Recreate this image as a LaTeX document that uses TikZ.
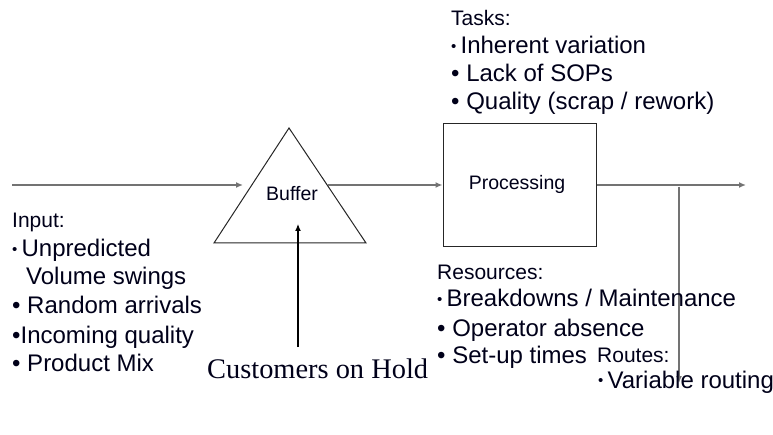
\documentclass[tikz,border=0pt]{standalone}
\usepackage{fontspec}
\setmainfont{Liberation Sans}
\newfontfamily\seriffont{Liberation Serif}
\usetikzlibrary{arrows.meta}
\newcommand{\sbul}{{\fontsize{15}{15}\selectfont\raisebox{2.6pt}{•}\space}}
\begin{document}
\begin{tikzpicture}[x=1pt,y=-1pt,
  txt/.style={anchor=base west, inner sep=0pt, text=black!90!blue, font=\fontsize{24}{28}\selectfont},
  hdr/.style={txt, font=\fontsize{21}{28}\selectfont},
  lbl/.style={inner sep=0pt, anchor=base, text=black!90!blue, font=\fontsize{19.5}{22}\selectfont},
  flow/.style={draw=black!55, line width=1.4pt, -{Latex[length=7pt,width=6pt]}},
  shapeline/.style={draw=black!85, line width=1pt}
]
\useasboundingbox (0,0) rectangle (773,435);

% coordinates
\coordinate (in) at (12,185);
\coordinate (bufL) at (243,185);
\coordinate (bufR) at (328,185);
\coordinate (triA) at (289,128);
\coordinate (triB) at (214,243);
\coordinate (triC) at (366,243);
\coordinate (out) at (746,185);
\coordinate (split) at (679,187);
\coordinate (routeEnd) at (679,383);
\coordinate (holdStart) at (298,347);
\coordinate (holdEnd) at (298,224);

% buffer triangle
\draw[shapeline] (triA) -- (triB) -- (triC) -- cycle;
\node[lbl] (buffer) at (292,201) {Buffer};

% processing box
\node[shapeline, minimum width=153pt, minimum height=123pt, inner sep=0pt] (proc) at (519.5,185.5) {};
\node[lbl] (proctext) at (517,190) {Processing};

% connectors
\draw[flow] (in) -- (bufL);
\draw[flow] (bufR) -- (proc.west |- bufR);
\draw[flow] (proc.east |- out) -- (out);
\draw[flow] (split) -- (routeEnd);
\draw[draw=black, line width=1.2pt, -{Latex[length=7pt,width=6pt]}] (holdStart) -- (holdEnd);

% Input list
\node[hdr] (inH) at (12,228) {Input:};
\node[txt] (in1) at (12,257) {\sbul Unpredicted};
\node[txt] (in1b) at (26,285) {Volume swings};
\node[txt] (in2) at (12,314) {• Random arrivals};
\node[txt] (in3) at (12,343) {•Incoming quality};
\node[txt] (in4) at (12,371) {• Product Mix};

% Tasks list
\node[hdr] (taH) at (451,26) {Tasks:};
\node[txt] (ta1) at (451,54) {\sbul Inherent variation};
\node[txt] (ta2) at (451,82) {• Lack of SOPs};
\node[txt] (ta3) at (451,110) {• Quality (scrap / rework)};

% Resources list
\node[hdr] (reH) at (437,280) {Resources:};
\node[txt] (re1) at (437,307) {\sbul Breakdowns / Maintenance};
\node[txt] (re2) at (437,336) {• Operator absence};
\node[txt] (re3) at (437,363) {• Set-up times};

% Routes list
\node[hdr] (roH) at (597,362) {Routes:};
\node[txt] (ro1) at (598,388) {\sbul Variable routing};

% Customers on hold
\node[anchor=base west, inner sep=0pt, text=black!90!blue, font=\seriffont\fontsize{28.4}{30}\selectfont] (hold) at (207,378) {Customers on Hold};
\end{tikzpicture}
\end{document}
